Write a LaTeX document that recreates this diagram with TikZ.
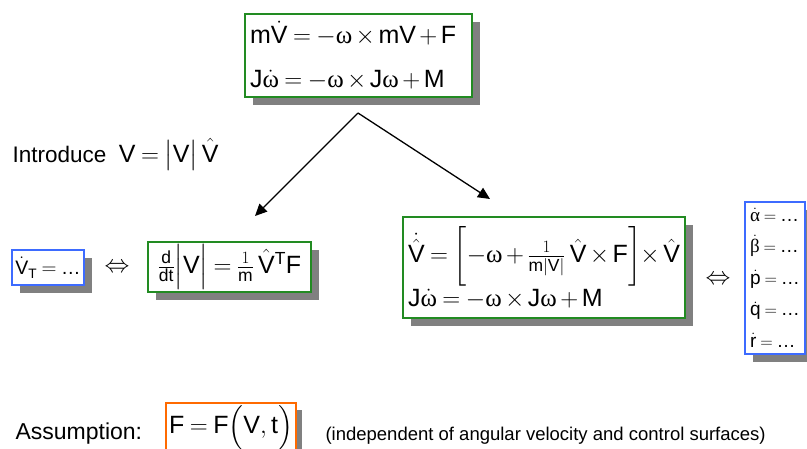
\documentclass[tikz,border=0pt]{standalone}
\usepackage{amsmath}
\usepackage{fontspec}
\setmainfont{Liberation Sans}
\setmathrm{Liberation Sans}
\newfontfamily\grkfont{Liberation Serif}
\usepackage{tikz}
\usetikzlibrary{arrows.meta, shadows}
\definecolor{EqGreen}{HTML}{228B22}
\definecolor{StateBlue}{HTML}{3D6BFF}
\definecolor{AsmOrange}{HTML}{FF6A00}
\definecolor{ShadowGray}{HTML}{808080}
\newcommand{\om}{\mbox{\grkfont ω}}
\newcommand{\rmv}[1]{\mathrm{#1}}
\newcommand{\etc}{\mbox{…}}
\newcommand{\eqsize}[2]{\fontsize{#1}{#2}\selectfont\medmuskip=2.5mu\thickmuskip=4mu}

\begin{document}
\begin{tikzpicture}[x=1pt, y=-1pt,
  shadowed/.style={drop shadow={shadow xshift=8pt, shadow yshift=-8pt, fill=ShadowGray, opacity=1}},
  eqbox/.style={draw=EqGreen, line width=1.5pt, fill=white, inner xsep=5pt, inner ysep=2pt, shadowed},
  statebox/.style={draw=StateBlue, line width=1.5pt, fill=white, inner xsep=3pt, inner ysep=2pt, shadowed},
  asmbox/.style={draw=AsmOrange, line width=1.5pt, fill=white, inner xsep=3pt, inner ysep=2pt,
    drop shadow={shadow xshift=6pt, shadow yshift=-7pt, fill=ShadowGray, opacity=1}},
  splitarrow/.style={-{Triangle[length=12pt, width=11pt]}, line width=1.3pt, black}]
  \useasboundingbox (0,0) rectangle (807,448);

  % equations of motion
  \node[eqbox, text width=217pt, minimum height=83pt, align=left, font=\eqsize{25}{44}] (eom) at (358.5,55.5)
    {$\rmv{m}\dot{\rmv{V}} = -\om\times\rmv{mV}+\rmv{F}$\\ $\rmv{J}\dot{\om} = -\om\times\rmv{J}\om+\rmv{M}$};

  \node[anchor=base west, font=\eqsize{22.5}{26}] (intro) at (9,162)
    {Introduce\ \ {\eqsize{25}{28}$\rmv{V} = \bigl|\rmv{V}\bigr|\,\hat{\rmv{V}}$}};

  \coordinate (split) at (358,113);
  \coordinate (toMag) at (255,216);
  \coordinate (toDir) at (490,199);
  \draw[splitarrow] (split) -- (toMag);
  \draw[splitarrow] (split) -- (toDir);

  % magnitude branch
  \node[statebox, minimum width=72pt, minimum height=35pt, font=\eqsize{19.5}{24}] (vt) at (48,267.5)
    {$\dot{\rmv{V}}_{\rmv{T}} = \etc$};
  \node[font=\fontsize{27}{30}\selectfont] (iffL) at (117,268) {$\Leftrightarrow$};
  \node[eqbox, minimum width=163pt, minimum height=50pt, font=\eqsize{25}{28}] (mag) at (229.5,267)
    {$\frac{\rmv{d}}{\rmv{dt}}\Bigl|\rmv{V}\Bigr| = \frac{1}{\rmv{m}}\,\hat{\rmv{V}}^{\rmv{T}}\rmv{F}$};

  % direction branch
  \node[eqbox, text width=272pt, minimum height=101pt, align=left, font=\eqsize{25}{28}] (dir) at (544,267.5)
    {$\dot{\hat{\rmv{V}}} = \biggl[-\om+\frac{1}{\rmv{m}|\rmv{V}|}\,\hat{\rmv{V}}\times\rmv{F}\biggr]\!\times\hat{\rmv{V}}$\\[2pt]
     $\rmv{J}\dot{\om} = -\om\times\rmv{J}\om+\rmv{M}$};
  \node[font=\fontsize{27}{30}\selectfont] (iffR) at (718,280) {$\Leftrightarrow$};
  \node[statebox, minimum width=60pt, minimum height=152pt, align=left, font=\eqsize{19}{31.5}] (ang) at (775,278)
    {$\dot{\mbox{\grkfont α}} = \etc$\\ $\dot{\mbox{\grkfont β}} = \etc$\\ $\dot{\rmv{p}} = \etc$\\ $\dot{\rmv{q}} = \etc$\\ $\dot{\rmv{r}} = \etc$};

  % assumption
  \node[anchor=base west, font=\fontsize{23}{26}\selectfont] (asmlabel) at (12,439) {Assumption:};
  \node[asmbox, minimum width=126pt, minimum height=39pt, font=\eqsize{25}{28}] (asm) at (231,427.5)
    {$\rmv{F} = \rmv{F}\Bigl(\rmv{V},\rmv{t}\Bigr)$};
  \node[anchor=base west, font=\fontsize{18.5}{22}\selectfont] (note) at (322,440)
    {(independent of angular velocity and control surfaces)};
\end{tikzpicture}
\end{document}
